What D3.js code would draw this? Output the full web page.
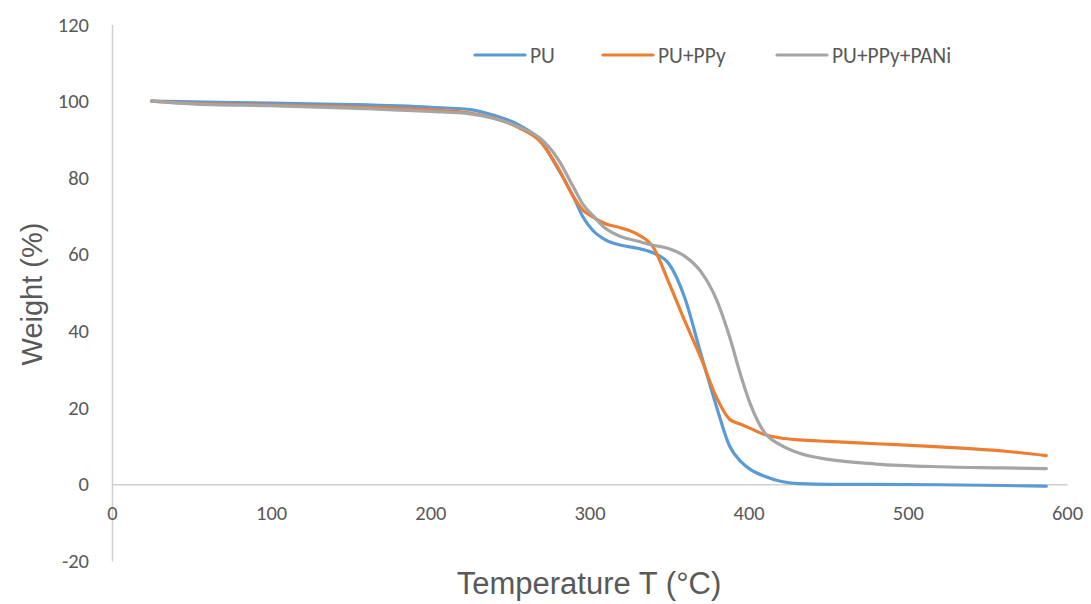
<!DOCTYPE html>
<html>
<head>
<meta charset="utf-8">
<script src="https://cdn.jsdelivr.net/npm/d3@7"></script>
<style>
  body { margin: 0; background: #fff; }
  .tick text { font-family: Carlito, Lato, "Open Sans", sans-serif; font-size: 20.5px; fill: #595959; }
  .axis-title { font-family: "Liberation Sans", Arial, sans-serif; fill: #595959; }
  .legend text { font-family: Carlito, Lato, "Open Sans", sans-serif; font-size: 21.5px; fill: #595959; }
</style>
</head>
<body>
<div id="graph"></div>
<script>
// temperature (°C) sample points shared by the three TGA curves
var temps = [25, 50, 100, 150, 200, 225, 240, 256, 269, 280, 290, 296, 302, 310, 320, 330,
  340, 350, 360, 370, 380, 388, 395, 401, 410, 420, 432, 450, 480, 520, 560, 587];

var weightPU = [100, 99.8, 99.5, 99.1, 98.4, 97.8, 96.3, 93.7, 89.8, 82.5, 75, 69.7, 66.3, 63.8, 62.4, 61.6,
  60.4, 57.5, 48.5, 34, 20, 10, 6.0, 3.9, 2.1, 0.8, 0.2, 0, 0, -0.1, -0.3, -0.5];

var weightPPy = [100, 99.4, 99.0, 98.5, 97.7, 96.9, 95.6, 93, 89.5, 82.8, 75, 71.5, 69.8, 68, 66.9, 65.3,
  61.9, 52.5, 42.5, 33, 22.5, 17, 15.7, 14.6, 13, 12.1, 11.6, 11.2, 10.6, 9.8, 8.7, 7.5];

var weightPANi = [100, 99.3, 98.8, 98.2, 97.3, 96.7, 95.5, 93.2, 90.3, 85, 77.5, 73, 70.2, 66.8, 64.6, 63.5,
  62.4, 61.5, 59.5, 55.5, 48, 38.5, 28.5, 21, 13.5, 10.3, 8.1, 6.5, 5.3, 4.6, 4.3, 4.1];

var seriesNames = ["PU", "PU+PPy", "PU+PPy+PANi"];
var seriesColors = ["#5B9BD5", "#ED7D31", "#A5A5A5"];
var xTicks = [0, 100, 200, 300, 400, 500, 600];
var yTicks = [-20, 0, 20, 40, 60, 80, 100, 120];

var width = 1091, height = 604;

var x = d3.scaleLinear().domain([0, 600]).range([112, 1067]);
var y = d3.scaleLinear().domain([-20, 120]).range([561, 24.5]);

var svg = d3.select("#graph")
  .append("svg")
  .attr("width", width)
  .attr("height", height);

// plain hyphen for negatives, like the original
var fmt = function (d) { return String(d); };

// Y axis (vertical line at x = 0)
var yAxis = svg.append("g")
  .attr("class", "y axis")
  .attr("transform", "translate(" + x(0) + ",0)")
  .call(d3.axisLeft(y).tickValues(yTicks).tickFormat(fmt).tickSize(0).tickPadding(23));
yAxis.select(".domain").attr("stroke", "#D0D0D0").attr("stroke-width", 1.5);

// X axis (horizontal line at y = 0)
var xAxis = svg.append("g")
  .attr("class", "x axis")
  .attr("transform", "translate(0," + y(0) + ")")
  .call(d3.axisBottom(x).tickValues(xTicks).tickFormat(fmt).tickSize(0).tickPadding(21));
xAxis.select(".domain").attr("stroke", "#D0D0D0").attr("stroke-width", 1.5);

// Axis titles
svg.append("text")
  .attr("class", "axis-title")
  .attr("text-anchor", "middle")
  .attr("font-size", 31)
  .attr("x", 589)
  .attr("y", 594)
  .text("Temperature T (°C)");

svg.append("text")
  .attr("class", "axis-title")
  .attr("text-anchor", "middle")
  .attr("font-size", 29)
  .attr("transform", "translate(42,294) rotate(-90)")
  .text("Weight (%)");

// Lines
var allSeries = [weightPU, weightPPy, weightPANi];
var line = d3.line()
  .curve(d3.curveMonotoneX)
  .x(function (d, i) { return x(temps[i]); })
  .y(function (d) { return y(d); });

allSeries.forEach(function (values, i) {
  svg.append("path")
    .datum(values)
    .attr("fill", "none")
    .attr("stroke", seriesColors[i])
    .attr("stroke-width", 3.2)
    .attr("stroke-linecap", "round")
    .attr("d", line);
});

// Legend
var legendX = [475, 603, 777];
var legend = svg.append("g").attr("class", "legend");
seriesNames.forEach(function (name, i) {
  legend.append("line")
    .attr("x1", legendX[i])
    .attr("x2", legendX[i] + 50)
    .attr("y1", 55)
    .attr("y2", 55)
    .attr("stroke", seriesColors[i])
    .attr("stroke-width", 3.2)
    .attr("stroke-linecap", "round");
  legend.append("text")
    .attr("x", legendX[i] + 55)
    .attr("y", 62.5)
    .text(name);
});
</script>
</body>
</html>
